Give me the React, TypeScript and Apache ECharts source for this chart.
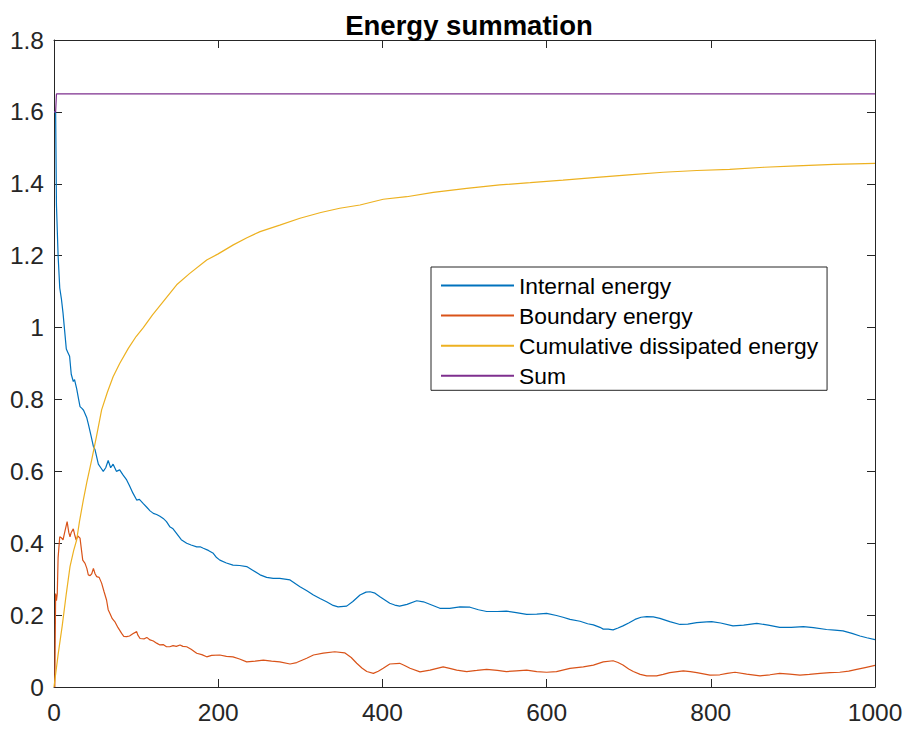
import React, { useEffect, useRef } from "react";
import * as echarts from "echarts";

const titleText = "Energy summation";
const seriesNames = ["Internal energy", "Boundary energy", "Cumulative dissipated energy", "Sum"];
const seriesColors = ["#0072BD", "#D95319", "#EDB120", "#7E2F8E"];
const xTicks = [0, 200, 400, 600, 800, 1000];
const yTicks = [0, 0.2, 0.4, 0.6, 0.8, 1, 1.2, 1.4, 1.6, 1.8];

const internalX = [0, 2, 3, 5, 7, 9, 11, 13, 15, 17, 19, 21, 23.5, 25, 27.6, 30, 31.7, 34, 36, 39.8, 42, 45, 47.9, 50, 54, 57, 60, 63, 66, 69, 72, 76, 80, 84, 88.5, 92, 96, 100.7, 104, 108.8, 113, 117, 121, 125, 129, 133, 137, 141, 145, 149, 155, 161.6, 167, 173.8, 178, 181.9, 188, 194, 198, 202, 210, 218, 226, 234.7, 242, 251, 259, 267, 275, 287.5, 299.6, 308, 316, 324, 332, 340, 346, 356.5, 364, 372.7, 380, 385, 391, 397, 403, 409, 415, 421, 430, 441.8, 450, 460, 470, 482, 494.5, 506.7, 517, 527, 540, 551, 563, 575.7, 588, 600, 612, 620, 628.5, 640.7, 650, 657, 665, 669, 675, 681, 687, 693, 700, 707.7, 715, 722, 730, 738, 750, 762.5, 772, 782.8, 795, 801, 812, 827, 840, 856, 870, 884, 898, 912.7, 925, 941, 951, 961, 972, 981.7, 990, 1000];
const internalY = [1.6, 1.6, 1.34, 1.2, 1.11, 1.08, 1.04, 0.99, 0.94, 0.93, 0.92, 0.87, 0.85, 0.855, 0.83, 0.8, 0.78, 0.775, 0.77, 0.75, 0.73, 0.7, 0.67, 0.66, 0.62, 0.61, 0.6, 0.61, 0.63, 0.61, 0.62, 0.6, 0.604, 0.59, 0.576, 0.56, 0.54, 0.52, 0.522, 0.51, 0.5, 0.49, 0.483, 0.48, 0.475, 0.469, 0.46, 0.446, 0.44, 0.428, 0.41, 0.4, 0.395, 0.39, 0.39, 0.386, 0.38, 0.372, 0.36, 0.353, 0.345, 0.339, 0.338, 0.335, 0.325, 0.312, 0.305, 0.302, 0.302, 0.298, 0.279, 0.268, 0.256, 0.246, 0.237, 0.227, 0.223, 0.225, 0.238, 0.256, 0.264, 0.265, 0.261, 0.251, 0.242, 0.233, 0.228, 0.225, 0.23, 0.24, 0.237, 0.228, 0.219, 0.219, 0.223, 0.222, 0.215, 0.21, 0.21, 0.211, 0.207, 0.202, 0.203, 0.205, 0.199, 0.194, 0.188, 0.183, 0.176, 0.173, 0.166, 0.161, 0.161, 0.159, 0.164, 0.17, 0.178, 0.188, 0.194, 0.196, 0.195, 0.191, 0.182, 0.174, 0.175, 0.179, 0.181, 0.182, 0.178, 0.17, 0.172, 0.177, 0.172, 0.166, 0.166, 0.168, 0.165, 0.16, 0.158, 0.156, 0.149, 0.142, 0.137, 0.132];

const boundaryX = [0, 1, 2, 3, 4, 5, 7, 9, 11, 13, 16, 18, 19.5, 21, 23.5, 25, 27, 29, 31.7, 33, 35, 37.8, 40, 41.8, 44, 46, 48, 50, 52, 55, 58, 61, 64, 66, 68, 71, 74, 78, 82.4, 85, 88.5, 92, 96, 100.7, 102, 104.8, 110, 113, 117, 121, 125, 129, 133, 137, 141, 145, 149, 153.5, 157, 161.6, 167, 173.8, 180, 186, 192, 202, 210, 218, 226, 234.7, 245, 255, 265, 275, 287.5, 295.6, 307.8, 316, 328, 342, 354, 362, 368.7, 375, 381, 389, 395, 401, 409, 421, 427, 433.6, 445.8, 458, 474, 482, 490.5, 502.7, 515, 527, 540, 551, 563, 575.7, 588, 600, 612, 628.5, 644.7, 657, 669, 681, 687, 693, 700, 705.6, 714, 722, 734, 742, 750, 766.5, 775, 783, 799, 811, 820, 829.5, 843.7, 860, 872, 884, 896, 908.6, 920, 933, 945, 957, 968, 977.7, 988, 1000];
const boundaryY = [0, 0, 0.26, 0.24, 0.26, 0.36, 0.418, 0.415, 0.409, 0.43, 0.46, 0.43, 0.418, 0.43, 0.44, 0.425, 0.409, 0.42, 0.414, 0.39, 0.353, 0.344, 0.33, 0.312, 0.31, 0.315, 0.33, 0.315, 0.307, 0.305, 0.289, 0.265, 0.242, 0.215, 0.205, 0.19, 0.182, 0.165, 0.149, 0.141, 0.14, 0.142, 0.148, 0.154, 0.145, 0.135, 0.134, 0.138, 0.131, 0.128, 0.122, 0.117, 0.118, 0.112, 0.112, 0.115, 0.113, 0.117, 0.113, 0.112, 0.105, 0.094, 0.09, 0.084, 0.088, 0.089, 0.085, 0.084, 0.078, 0.07, 0.072, 0.075, 0.072, 0.07, 0.064, 0.068, 0.08, 0.089, 0.094, 0.098, 0.095, 0.082, 0.066, 0.053, 0.043, 0.038, 0.044, 0.052, 0.064, 0.066, 0.06, 0.052, 0.042, 0.047, 0.056, 0.052, 0.047, 0.043, 0.046, 0.049, 0.046, 0.043, 0.045, 0.047, 0.043, 0.041, 0.043, 0.052, 0.056, 0.061, 0.07, 0.073, 0.068, 0.061, 0.05, 0.043, 0.035, 0.031, 0.031, 0.035, 0.04, 0.045, 0.043, 0.04, 0.033, 0.034, 0.038, 0.041, 0.036, 0.031, 0.034, 0.038, 0.036, 0.033, 0.035, 0.038, 0.04, 0.041, 0.044, 0.049, 0.054, 0.06];

const dissipatedX = [0, 5, 10, 15, 19.5, 24, 27.6, 31, 35.7, 40, 45.9, 52, 58, 65, 72, 80, 90.5, 100, 108.8, 120, 133, 149.4, 165, 186, 200, 218.4, 235, 251, 275, 299.6, 325, 348, 372.7, 401, 429.6, 462, 502.7, 543, 580, 620, 661, 700, 742, 783, 823, 865, 904.6, 950, 1000];
const dissipatedY = [0, 0.09, 0.17, 0.26, 0.335, 0.38, 0.409, 0.46, 0.52, 0.57, 0.632, 0.7, 0.771, 0.82, 0.863, 0.9, 0.942, 0.975, 1.0, 1.035, 1.072, 1.119, 1.15, 1.188, 1.205, 1.23, 1.25, 1.267, 1.285, 1.304, 1.32, 1.332, 1.341, 1.357, 1.364, 1.376, 1.387, 1.397, 1.403, 1.41, 1.418, 1.425, 1.432, 1.437, 1.44, 1.446, 1.45, 1.454, 1.457];

const sumX = [0, 2, 3, 1000];
const sumY = [1.6, 1.6, 1.65, 1.65];

const FONT = "'Liberation Sans', Arial, Helvetica, sans-serif";
const AXIS_COLOR = "#262626";

function pairs(xs: number[], ys: number[]) {
  return xs.map((x, i) => [x, ys[i]]);
}

function matchTick(list: number[], v: number) {
  const t = list.find((k) => Math.abs(k - v) < 1e-6);
  return t === undefined ? "" : String(t);
}

export default function App() {
  const ref = useRef<HTMLDivElement>(null);
  useEffect(() => {
    document.body.style.margin = "0";
    if (!ref.current) return;
    const chart = echarts.init(ref.current, null, { renderer: "svg" });
    const datasets = [
      pairs(internalX, internalY),
      pairs(boundaryX, boundaryY),
      pairs(dissipatedX, dissipatedY),
      pairs(sumX, sumY),
    ];
    const baseAxisLine = { show: true, onZero: false, lineStyle: { color: AXIS_COLOR, width: 1 } };
    const tickIn = { show: true, inside: true, length: 8, lineStyle: { color: AXIS_COLOR, width: 1 } };
    chart.setOption({
      animation: false,
      backgroundColor: "#ffffff",
      title: {
        text: titleText,
        left: 464,
        top: 6,
        textAlign: "center",
        textStyle: { fontFamily: FONT, fontSize: 27.5, fontWeight: "bold", color: "#000000" },
      },
      grid: { left: 54, right: 32, top: 40, bottom: 46, containLabel: false },
      legend: {
        orient: "vertical",
        left: 431,
        top: 267,
        align: "left",
        backgroundColor: "#ffffff",
        borderColor: AXIS_COLOR,
        borderWidth: 1,
        borderRadius: 0,
        padding: [7, 9, 3, 9],
        itemWidth: 73,
        itemHeight: 22,
        itemGap: 7.1,
        itemStyle: { opacity: 0, borderWidth: 0 },
        textStyle: { fontFamily: FONT, fontSize: 22.8, color: "#000000" },
        data: seriesNames,
      },
      xAxis: [
        {
          type: "value",
          min: 0,
          max: 1000,
          interval: 200,
          position: "bottom",
          axisLine: baseAxisLine,
          axisTick: tickIn,
          splitLine: { show: false },
          axisLabel: {
            margin: 13,
            color: AXIS_COLOR,
            fontFamily: FONT,
            fontSize: 24.5,
            formatter: (v: number) => matchTick(xTicks, v),
          },
        },
        {
          type: "value",
          min: 0,
          max: 1000,
          interval: 200,
          position: "top",
          axisLine: baseAxisLine,
          axisTick: tickIn,
          splitLine: { show: false },
          axisLabel: { show: false },
        },
      ],
      yAxis: [
        {
          type: "value",
          min: 0,
          max: 1.8,
          interval: 0.2,
          position: "left",
          axisLine: baseAxisLine,
          axisTick: tickIn,
          splitLine: { show: false },
          axisLabel: {
            margin: 10,
            color: AXIS_COLOR,
            fontFamily: FONT,
            fontSize: 24.5,
            formatter: (v: number) => matchTick(yTicks, v),
          },
        },
        {
          type: "value",
          min: 0,
          max: 1.8,
          interval: 0.2,
          position: "right",
          axisLine: baseAxisLine,
          axisTick: tickIn,
          splitLine: { show: false },
          axisLabel: { show: false },
        },
      ],
      series: seriesNames.map((name, i) => ({
        name,
        type: "line",
        xAxisIndex: 0,
        yAxisIndex: 0,
        data: datasets[i],
        symbol: "none",
        showSymbol: false,
        smooth: false,
        clip: true,
        lineStyle: { color: seriesColors[i], width: 1.2 },
        itemStyle: { color: seriesColors[i] },
        z: 2 + i,
      })),
    });
    return () => chart.dispose();
  }, []);
  return <div ref={ref} style={{ width: 907, height: 733 }} />;
}
